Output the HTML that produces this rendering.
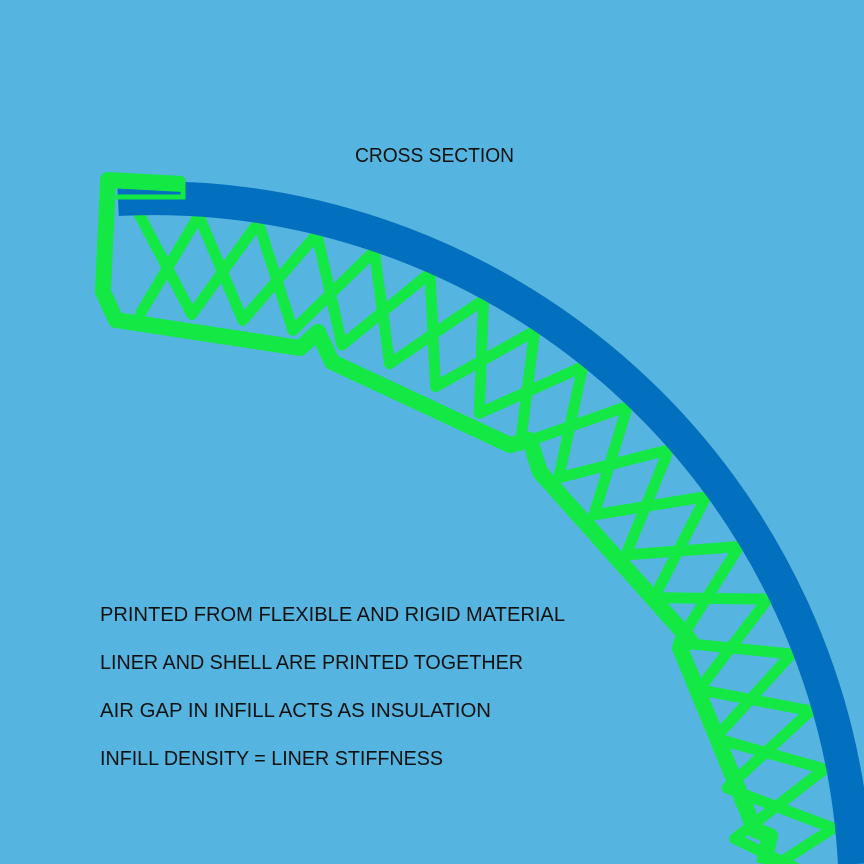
<!DOCTYPE html>
<html><head><meta charset="utf-8"><style>html,body{margin:0;padding:0;background:#56b5e0;overflow:hidden;width:864px;height:864px}svg{display:block}</style></head>
<body>
<svg width="864" height="864" viewBox="0 0 864 864" xmlns="http://www.w3.org/2000/svg">
<rect width="864" height="864" fill="#56b5e0"/>
<!-- lattice -->
<g stroke="#14e845" stroke-width="11" stroke-linecap="round">
<g id="u" transform="rotate(-1 151 900)">
<line x1="151" y1="313" x2="211" y2="216"/>
<line x1="151" y1="214" x2="202" y2="315"/>
</g>
<use href="#u" transform="rotate(5 151 900)"/>
<use href="#u" transform="rotate(10 151 900)"/>
<use href="#u" transform="rotate(15 151 900)"/>
<use href="#u" transform="rotate(20 151 900)"/>
<use href="#u" transform="rotate(25 151 900)"/>
<use href="#u" transform="rotate(30 151 900)"/>
<use href="#u" transform="rotate(35 151 900)"/>
<use href="#u" transform="rotate(40 151 900)"/>
<use href="#u" transform="rotate(45 151 900)"/>
<use href="#u" transform="rotate(50 151 900)"/>
<use href="#u" transform="rotate(55 151 900)"/>
<use href="#u" transform="rotate(60 151 900)"/>
<use href="#u" transform="rotate(65 151 900)"/>
<use href="#u" transform="rotate(70 151 900)"/>
<use href="#u" transform="rotate(75 151 900)"/>
<use href="#u" transform="rotate(80 151 900)"/>
<use href="#u" transform="rotate(85 151 900)"/>
</g>
<!-- blue band -->
<path d="M118,199 A703,703 0 0 1 855,864" fill="none" stroke="#0270be" stroke-width="34"/>
<!-- shell -->
<g fill="none" stroke="#14e845" stroke-width="16" stroke-linejoin="round">
<polyline points="183,184 108,180 103,292 116,320 300,348 318,332 332,362 510,445 530,440 540,472 690,640 680,648 755,830 770,836 764,864"/>
</g>
<path d="M108,186 L108,200 M116,197 L183,197 L183,178" fill="none" stroke="#14e845" stroke-width="5"/>
<g font-family="Liberation Sans, sans-serif" fill="#111" font-size="20">
<text x="355" y="162" textLength="159" lengthAdjust="spacingAndGlyphs">CROSS SECTION</text>
<text x="100" y="621" textLength="465" lengthAdjust="spacingAndGlyphs">PRINTED FROM FLEXIBLE AND RIGID MATERIAL</text>
<text x="100" y="669" textLength="423" lengthAdjust="spacingAndGlyphs">LINER AND SHELL ARE PRINTED TOGETHER</text>
<text x="100" y="717" textLength="391" lengthAdjust="spacingAndGlyphs">AIR GAP IN INFILL ACTS AS INSULATION</text>
<text x="100" y="765" textLength="343" lengthAdjust="spacingAndGlyphs">INFILL DENSITY = LINER STIFFNESS</text>
</g>
</svg>
</body></html>
